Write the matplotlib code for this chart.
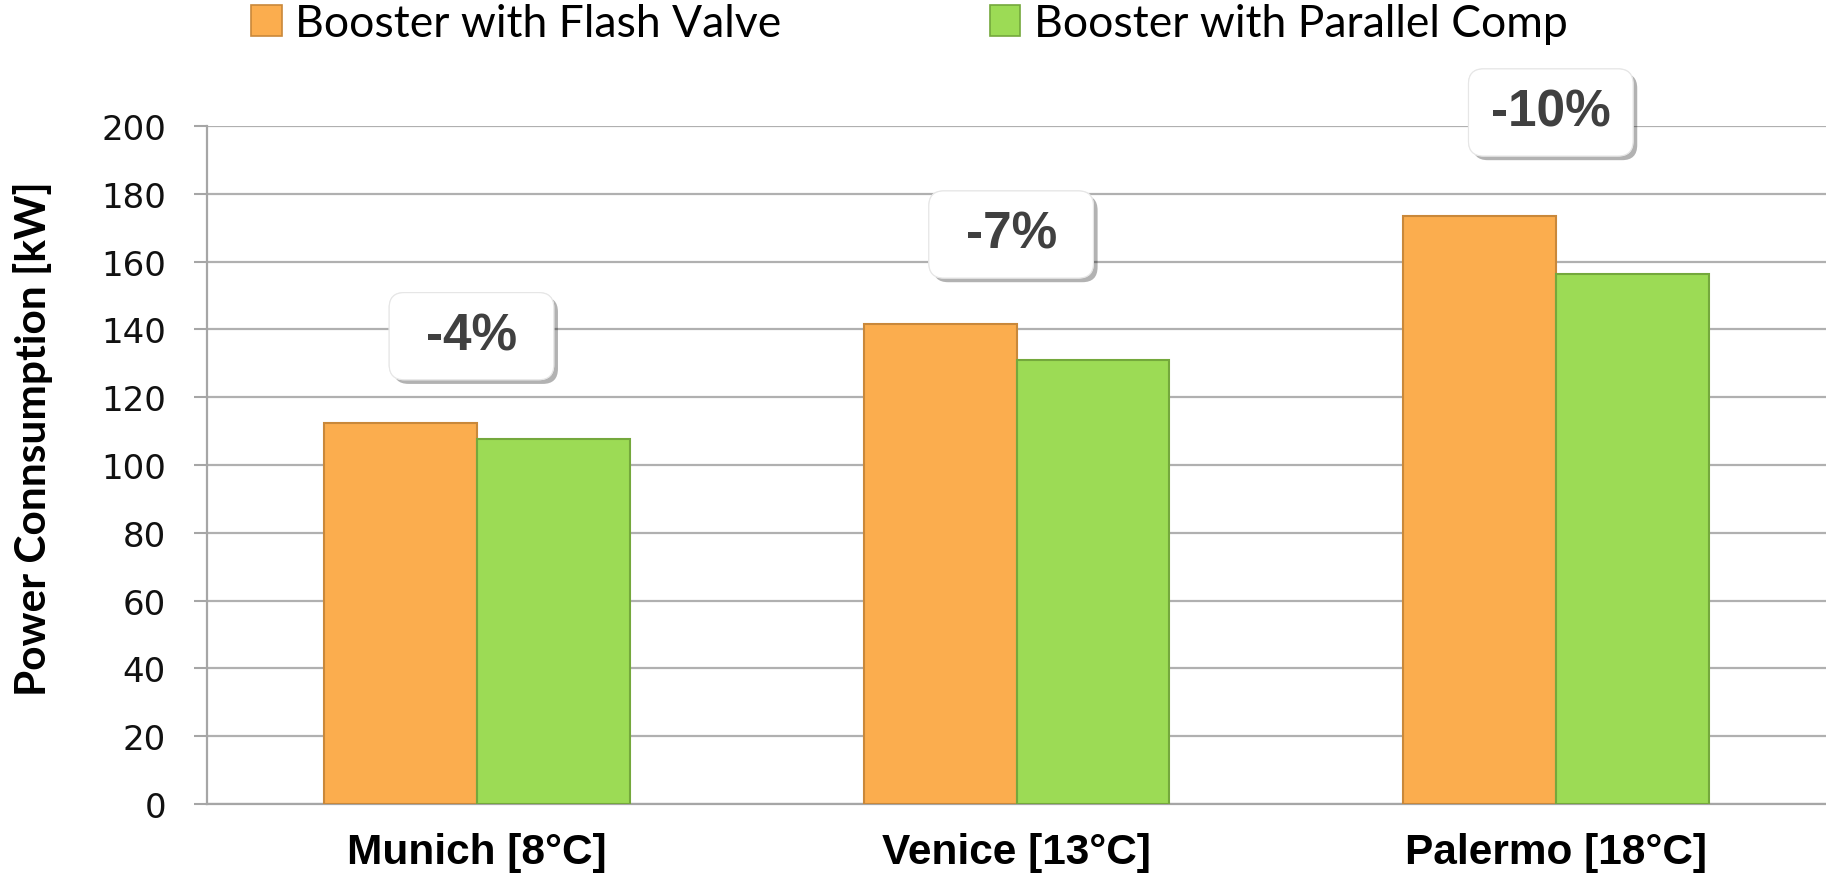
import matplotlib
matplotlib.use("Agg")
import matplotlib.pyplot as plt
import numpy as np
from matplotlib.patches import FancyBboxPatch, Patch
import matplotlib.patheffects as pe

# ---- data ----
categories = ["Munich [8°C]", "Venice [13°C]", "Palermo [18°C]"]
series_names = ["Booster with Flash Valve", "Booster with Parallel Comp"]
flash_valve = [112.4, 141.6, 173.5]
parallel_comp = [107.6, 130.9, 156.4]
savings_labels = ["-4%", "-7%", "-10%"]
label_heights = [138, 168, 204]
y_ticks = [0, 20, 40, 60, 80, 100, 120, 140, 160, 180, 200]
y_label = "Power Connsumption [kW]"

orange = "#FBAD4E"
orange_edge = "#C9883A"
green = "#9CDB55"
green_edge = "#74A83C"

fig = plt.figure(figsize=(18.26, 8.79), dpi=100)
ax = fig.add_axes([0.1134, 0.0842, 0.8866, 0.7713])

x = np.arange(len(categories))
w = 0.283
ax.bar(x - w / 2, flash_valve, width=w, color=orange, edgecolor=orange_edge,
       linewidth=1.5, zorder=3)
ax.bar(x + w / 2, parallel_comp, width=w, color=green, edgecolor=green_edge,
       linewidth=1.5, zorder=3)

ax.set_xlim(-0.5, len(categories) - 0.5)
ax.set_ylim(0, 200)
ax.set_yticks(y_ticks)
ax.set_yticklabels([str(v) for v in y_ticks], fontsize=24.5, family="DejaVu Sans",
                   color="#111111")
ax.set_xticks(x)
ax.set_xticklabels(categories, fontsize=30.5, fontweight="bold",
                   family="Liberation Sans")
ax.tick_params(axis="x", length=0, pad=20)
ax.tick_params(axis="y", length=9.6, width=1.5, color="#A6A6A6", pad=20)

ax.grid(axis="y", color="#B0B0B0", linewidth=1.6, zorder=0)
ax.set_axisbelow(True)
for s in ["top", "right"]:
    ax.spines[s].set_visible(False)
ax.spines["left"].set_color("#A6A6A6")
ax.spines["left"].set_linewidth(1.6)
ax.spines["bottom"].set_color("#A6A6A6")
ax.spines["bottom"].set_linewidth(1.6)

ax.set_ylabel(y_label, fontsize=30.5, fontweight="bold", family="Lato")
ax.yaxis.set_label_coords(-0.095, 0.54)

# percentage boxes
box_w = 0.305
box_h = 25.7
aspect = (200 / 678) * 540
for xi, lab, yh in zip(x, savings_labels, label_heights):
    xc = xi - 0.01
    p = FancyBboxPatch((xc - box_w / 2, yh - box_h / 2), box_w, box_h,
                       boxstyle="round,pad=0,rounding_size=0.028",
                       mutation_aspect=aspect, fc="white", ec="#E6E6E6",
                       lw=0.8, zorder=5, clip_on=False)
    p.set_path_effects([pe.withSimplePatchShadow(offset=(3, -3),
                                                 shadow_rgbFace="black",
                                                 alpha=0.3),
                        pe.Normal()])
    ax.add_patch(p)
    ax.text(xc, yh, lab, ha="center", va="center", fontsize=37,
            fontweight="bold", family="Liberation Sans", color="#404040",
            zorder=6, clip_on=False)

handles = [Patch(facecolor=orange, edgecolor=orange_edge, linewidth=1.2),
           Patch(facecolor=green, edgecolor=green_edge, linewidth=1.2)]
fig.legend(handles, series_names, loc="center", bbox_to_anchor=(0.498, 0.972),
           ncol=2, frameon=False, prop={"family": "Lato", "size": 32},
           handlelength=0.68, handleheight=0.68, handletextpad=0.3,
           columnspacing=4.7)

fig.savefig("out.png", dpi=100, facecolor="white")
